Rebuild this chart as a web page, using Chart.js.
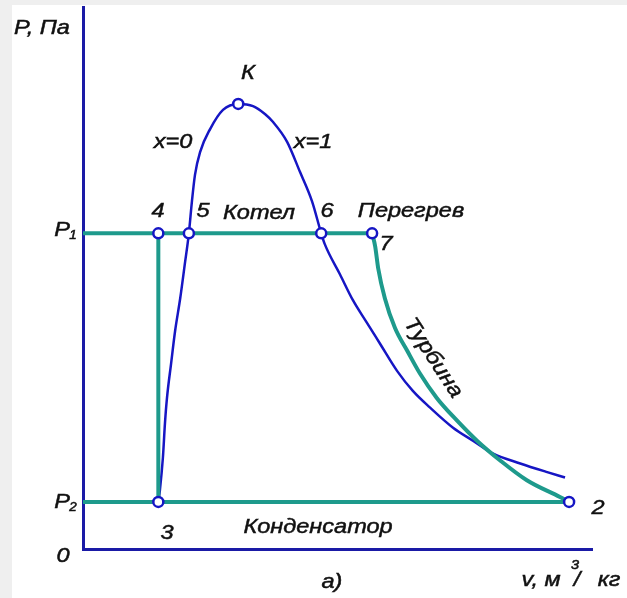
<!DOCTYPE html>
<html>
<head>
<meta charset="utf-8">
<script src="https://cdn.jsdelivr.net/npm/chart.js@4"></script>
<style>
  html, body { margin: 0; padding: 0; background: #fff; }
  #wrap { width: 627px; height: 598px; }
</style>
</head>
<body>
<div id="wrap"><canvas id="ctx" width="627" height="598"></canvas></div>
<script>
// P-v diagram of the Rankine cycle (axis units: v 0..10, P 0..10)
var P1 = 5.83;
var P2 = 0.87;

// saturation dome x=0 .. K .. x=1
var domeV = [1.48, 1.51, 1.57, 1.61, 1.65, 1.73, 1.81, 1.91, 2.00, 2.08, 2.14, 2.20, 2.30, 2.50, 2.75, 3.05,
             3.34, 3.58, 3.73, 4.01, 4.26, 4.50, 4.68, 4.75, 5.05, 5.30, 5.57, 5.83, 6.17, 6.48, 6.82, 7.27,
             7.66, 8.06, 8.59, 9.12, 9.47];
var domeP = [0.87, 1.08, 1.69, 2.32, 2.79, 3.42, 4.03, 4.63, 5.26, 5.83, 6.42, 6.91, 7.33, 7.76, 8.11, 8.22,
             8.18, 8.03, 7.89, 7.52, 6.97, 6.42, 5.83, 5.63, 5.07, 4.60, 4.19, 3.80, 3.29, 2.92, 2.61, 2.24,
             2.00, 1.76, 1.58, 1.42, 1.32];

// turbine expansion 7 -> 2
var turbV = [5.68, 5.74, 5.80, 5.93, 6.13, 6.37, 6.62, 6.95, 7.35, 7.74, 8.19, 8.72, 9.37, 9.55];
var turbP = [5.83, 5.59, 5.18, 4.63, 4.08, 3.66, 3.24, 2.79, 2.37, 2.00, 1.64, 1.27, 0.96, 0.87];

// state points
var pointNames = ["3", "4", "5", "K", "6", "7", "2"];
var pointV = [1.48, 1.48, 2.08, 3.05, 4.68, 5.68, 9.55];
var pointP = [P2, P1, P1, 8.22, P1, P1, P2];

function zip(xs, ys) {
    return xs.map(function (x, i) { return { x: x, y: ys[i] }; });
}

var blue = '#1616c4';
var axisBlue = '#1a1aa6';
var green = '#1e9a8c';

var texts = [
    { t: "К", x: 248, y: 73 },
    { t: "x=0", x: 173, y: 142 },
    { t: "x=1", x: 313, y: 142 },
    { t: "4", x: 158, y: 211 },
    { t: "5", x: 203, y: 211 },
    { t: "Котел", x: 259, y: 213 },
    { t: "6", x: 327, y: 211 },
    { t: "Перегрев", x: 411, y: 211 },
    { t: "7", x: 386, y: 244 },
    { t: "3", x: 167, y: 533 },
    { t: "2", x: 598, y: 508 },
    { t: "Конденсатор", x: 318, y: 527 },
    { t: "0", x: 63, y: 556 },
    { t: "а)", x: 332, y: 582 }
];

function drawText(c, t, x, y, size, rot) {
    c.save();
    c.translate(x, y);
    if (rot) c.rotate(rot);
    c.scale(1.12, 1);
    c.font = 'italic ' + size + 'px "Liberation Sans", Arial, sans-serif';
    c.fillStyle = '#111';
    c.strokeStyle = '#111';
    c.lineWidth = 0.5;
    c.textAlign = 'center';
    c.textBaseline = 'middle';
    c.fillText(t, 0, 0);
    c.strokeText(t, 0, 0);
    c.restore();
}

var labelsPlugin = {
    id: 'labels',
    beforeDraw: function (chart) {
        var c = chart.ctx;
        c.save();
        c.fillStyle = '#fff';
        c.fillRect(0, 0, chart.width, chart.height);
        c.fillStyle = '#efefef';
        c.fillRect(0, 0, chart.width, 5);
        c.fillRect(0, 0, 12, chart.height);
        c.restore();
    },
    afterDraw: function (chart) {
        var c = chart.ctx;
        texts.forEach(function (o) { drawText(c, o.t, o.x, o.y, 21); });
        drawText(c, "Турбина", 433, 358, 21, 57 * Math.PI / 180);
        // axis titles
        drawText(c, "P, Па", 42, 28, 21);
        drawText(c, "P", 62, 230, 21);
        drawText(c, "1", 73, 236, 12);
        drawText(c, "P", 62, 502, 21);
        drawText(c, "2", 73, 508, 12);
        drawText(c, "v, м", 541, 580, 21);
        drawText(c, "3", 575, 565, 13);
        drawText(c, "/", 577, 580, 21);
        drawText(c, "кг", 609, 580, 21);
    }
};

var ctx = document.getElementById("ctx").getContext('2d');

var myChart = new Chart(ctx, {
    type: 'scatter',
    data: {
        datasets: [{
            label: 'points',
            data: zip(pointV, pointP),
            pointRadius: 5,
            pointBorderWidth: 2.5,
            pointBorderColor: blue,
            pointBackgroundColor: '#fff',
            showLine: false
        }, {
            label: 'P1',
            data: [{ x: 0, y: P1 }, { x: pointV[5], y: P1 }],
            showLine: true,
            borderColor: green,
            borderWidth: 4,
            pointRadius: 0
        }, {
            label: '4-3',
            data: [{ x: pointV[1], y: P1 }, { x: pointV[0], y: P2 }],
            showLine: true,
            borderColor: green,
            borderWidth: 4,
            pointRadius: 0
        }, {
            label: 'P2',
            data: [{ x: 0, y: P2 }, { x: pointV[6], y: P2 }],
            showLine: true,
            borderColor: green,
            borderWidth: 4,
            pointRadius: 0
        }, {
            label: 'turbine',
            data: zip(turbV, turbP),
            showLine: true,
            borderColor: green,
            borderWidth: 4,
            pointRadius: 0,
            cubicInterpolationMode: 'monotone'
        }, {
            label: 'dome',
            data: zip(domeV, domeP),
            showLine: true,
            borderColor: blue,
            borderWidth: 2.5,
            pointRadius: 0,
            cubicInterpolationMode: 'monotone'
        }]
    },
    options: {
        responsive: false,
        animation: false,
        layout: { padding: { left: 83, top: 5, right: 35, bottom: 49 } },
        plugins: { legend: { display: false }, tooltip: { enabled: false } },
        scales: {
            x: {
                type: 'linear', min: 0, max: 10,
                grid: { display: false, drawTicks: false, tickLength: 0 },
                ticks: { display: false },
                border: { display: true, color: axisBlue, width: 3 }
            },
            y: {
                type: 'linear', min: 0, max: 10,
                grid: { display: false, drawTicks: false, tickLength: 0 },
                ticks: { display: false },
                border: { display: true, color: axisBlue, width: 3 }
            }
        }
    },
    plugins: [labelsPlugin]
});
</script>
</body>
</html>
